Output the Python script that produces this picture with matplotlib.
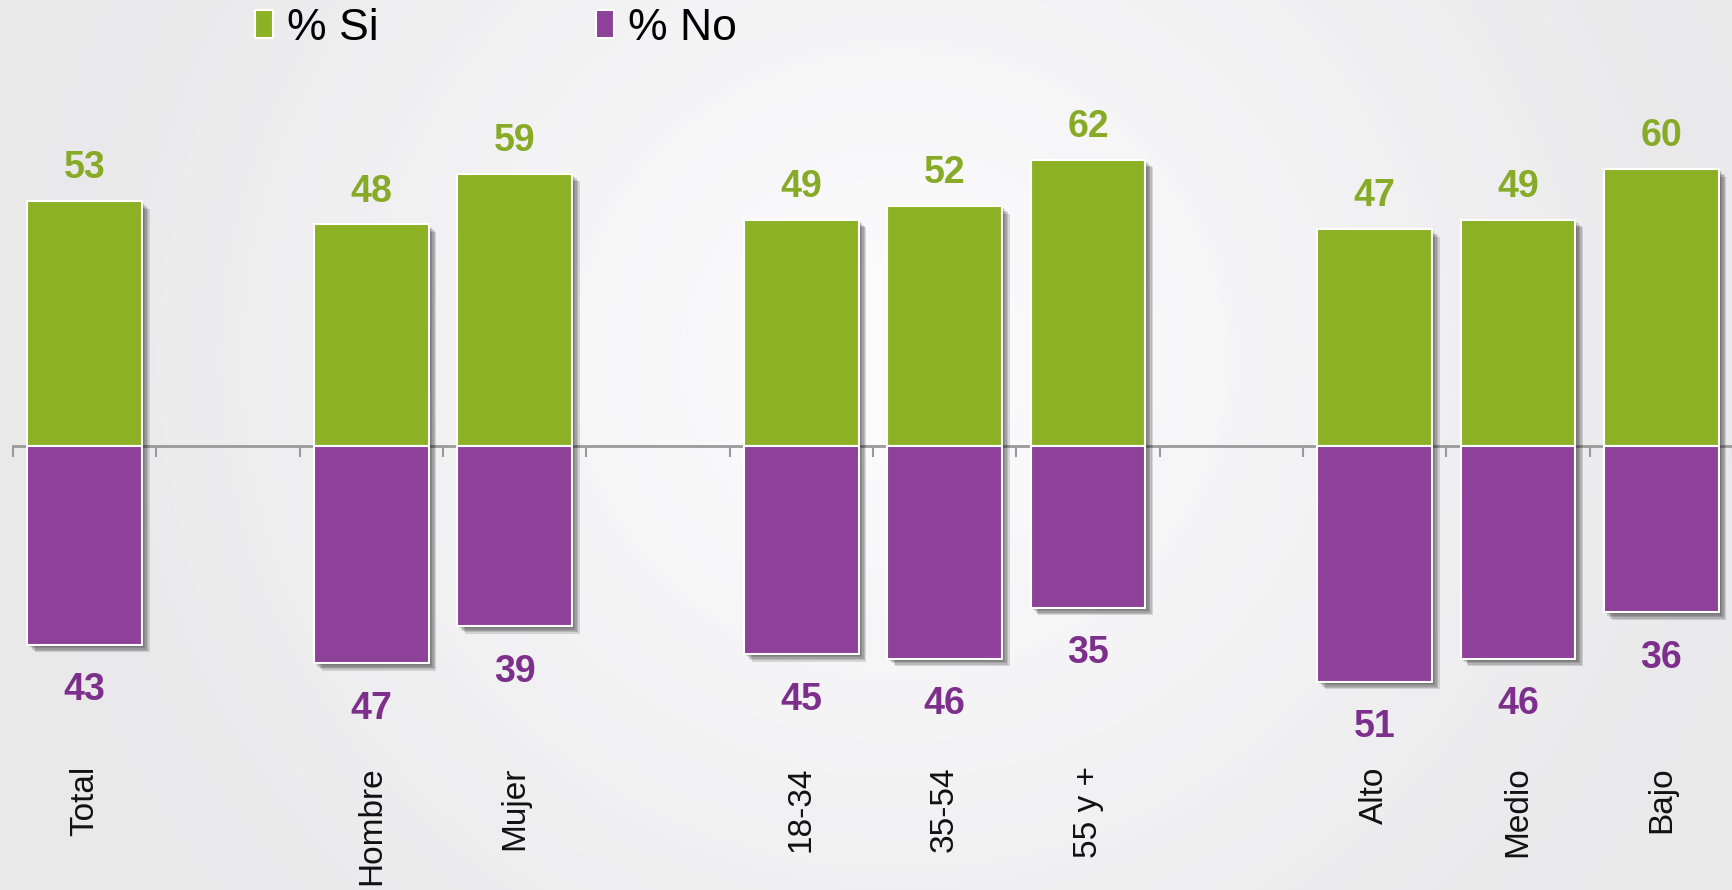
import numpy as np
import matplotlib
matplotlib.use("Agg")
import matplotlib.pyplot as plt
import matplotlib.patheffects as pe
from matplotlib.patches import Patch

plt.rcParams['font.family'] = ['Liberation Sans', 'DejaVu Sans']

# data
categories = ['Total', '', 'Hombre', 'Mujer', '', '18-34', '35-54', '55 y +', '', 'Alto', 'Medio', 'Bajo']
si_values = [53, None, 48, 59, None, 49, 52, 62, None, 47, 49, 60]
no_values = [43, None, 47, 39, None, 45, 46, 35, None, 51, 46, 36]

green = '#8cb125'
purple = '#8e4199'
green_txt = '#87aa27'
purple_txt = '#7d2f8c'

fig = plt.figure(figsize=(17.33, 8.9), dpi=100)

# radial background
bg = fig.add_axes([0, 0, 1, 1], zorder=-1)
yy, xx = np.mgrid[0:890, 0:1733]
r = np.hypot(xx - 900, (yy - 360) * 1.05)
smooth = np.clip((r - 120) / 700, 0, 1)
bands = np.floor(r / 110) * 110 / 880
val = 251 - 18 * np.clip(0.6 * smooth + 0.4 * np.clip(bands, 0, 1), 0, 1)
img = np.dstack([val, val, val + 1.5]) / 255
bg.imshow(np.clip(img, 0, 1), aspect='auto', extent=[0, 1, 0, 1])
bg.axis('off')

ax = fig.add_axes([13 / 1733, 0.0836, 1720 / 1733, 0.8303])
ax.set_facecolor('none')

idx = [i for i, v in enumerate(si_values) if v is not None]
si = [si_values[i] for i in idx]
no = [no_values[i] for i in idx]

# soft drop shadow (right / bottom)
shadow = [pe.SimplePatchShadow(offset=(k, -k), shadow_rgbFace='black', alpha=0.13) for k in (1.5, 2.5, 3.5, 4.5, 5.5)]
shadow.append(pe.Normal())
b1 = ax.bar(idx, si, width=0.8, color=green, edgecolor='white', linewidth=1.5, zorder=3)
b2 = ax.bar(idx, [-v for v in no], width=0.8, color=purple, edgecolor='white', linewidth=1.5, zorder=3)
for b in list(b1) + list(b2):
    b.set_path_effects(shadow)

for i, s, n in zip(idx, si, no):
    ax.annotate(str(s), (i, s), xytext=(0, 16.5), textcoords='offset points',
                ha='center', va='baseline', fontsize=27, fontweight='bold', color=green_txt)
    ax.annotate(str(n), (i, -n), xytext=(0, -40), textcoords='offset points',
                ha='center', va='baseline', fontsize=27, fontweight='bold', color=purple_txt)

for i, c in enumerate(categories):
    if c:
        ax.text(i, -69.3, c, rotation=90, ha='center', va='top', fontsize=24, color='#111111')

ax.set_xlim(-0.5, len(categories) - 0.5)
ax.set_ylim(-80, 80)
for s in ['top', 'right', 'left']:
    ax.spines[s].set_visible(False)
ax.spines['bottom'].set_position(('data', 0))
ax.spines['bottom'].set_color('#9a9a9a')
ax.spines['bottom'].set_linewidth(2)
ax.set_xticks(np.arange(len(categories) + 1) - 0.5)
ax.set_xticklabels([])
ax.tick_params(axis='x', direction='out', length=8, width=1.5, color='#9a9a9a')
ax.set_yticks([])

handles = [Patch(facecolor=green, edgecolor='white', linewidth=1.5, label='% Si'),
           Patch(facecolor=purple, edgecolor='white', linewidth=1.5, label='% No')]
fig.legend(handles=handles, loc='center left', bbox_to_anchor=(255 / 1733, 1 - 28 / 890), ncol=2,
           frameon=False, fontsize=32, handlelength=0.4, handleheight=0.6, handletextpad=0.32,
           columnspacing=4.9, borderpad=0, borderaxespad=0)

fig.savefig('out.png', dpi=100)
